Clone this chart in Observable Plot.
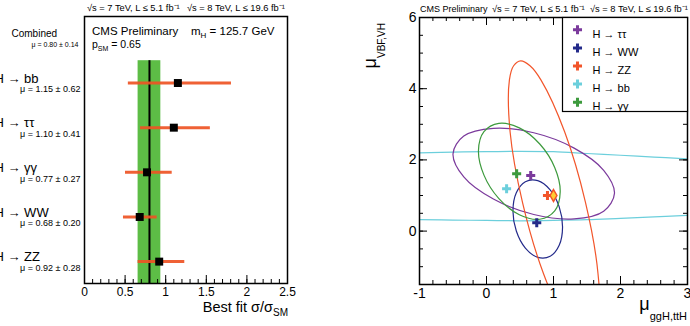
<!DOCTYPE html>
<html><head><meta charset="utf-8">
<script src="https://cdn.jsdelivr.net/npm/d3@7"></script>
<script src="https://cdn.jsdelivr.net/npm/@observablehq/plot@0.6"></script>
<style>
body{margin:0;background:#fff;}
#wrap{position:relative;width:690px;height:326px;overflow:hidden;}
#left,#right{position:absolute;top:0;}
#left{left:0;} #right{left:340px;}
</style></head><body><div id="wrap"><div id="left"></div><div id="right"></div></div>
<script>
const FONT = '"Liberation Sans", Arial, Helvetica, sans-serif';

// ---------- Left panel data ----------
const channels = ["H → bb", "H → ττ", "H → γγ", "H → WW", "H → ZZ"];
const muLabels = ["μ = 1.15 ± 0.62", "μ = 1.10 ± 0.41", "μ = 0.77 ± 0.27", "μ = 0.68 ± 0.20", "μ = 0.92 ± 0.28"];
const muBest = [1.15, 1.10, 0.77, 0.68, 0.92];
const muLow  = [0.54, 0.69, 0.505, 0.48, 0.66];
const muHigh = [1.81, 1.55, 1.08, 0.895, 1.235];
const combinedMu = 0.80, combinedErr = 0.14;
const combinedLabel = "μ = 0.80 ± 0.14";
const leftXTicks = [0, 0.5, 1, 1.5, 2, 2.5];
const leftXDomain = [0, 2.5];
const leftYDomain = [-0.49, 5.49];

// ---------- Right panel data ----------
const rightXDomain = [-1, 3];
const rightYDomain = [-1.5, 6];
const rightXTicks = [-1, 0, 1, 2, 3];
const rightYTicks = [0, 2, 4, 6];
const decayNames = ["H → ττ", "H → WW", "H → ZZ", "H → bb", "H → γγ"];
const decayColors = ["#7b3a9c", "#232a8a", "#f2552a", "#6ccfdc", "#3d9a3d"];
const bestX = [0.66, 0.75, 0.91, 0.30, 0.45];
const bestY = [1.56, 0.235, 1.00, 1.19, 1.61];
const smPoint = [1, 1];
// 68% CL contours
const contourTauTau = [[1.91,1.06],[1.749,1.708],[1.308,2.331],[0.705,2.763],[0.103,2.887],[-0.339,2.670],[-0.50,2.17],[-0.339,1.522],[0.103,0.899],[0.705,0.467],[1.308,0.343],[1.749,0.560]];
const contourWW = [[1.135,0.11],[1.085,0.679],[0.95,1.157],[0.765,1.416],[0.58,1.387],[0.445,1.077],[0.395,0.57],[0.445,0.001],[0.58,-0.477],[0.765,-0.736],[0.95,-0.707],[1.085,-0.397]];
const contourZZ = [[1.478,0.80],[1.166,2.79],[0.812,4.247],[0.649,4.645],[0.51,4.78],[0.405,4.645],[0.342,4.247],[0.352,2.79],[0.538,0.80],[0.85,-1.19],[1.204,-2.647],[1.506,-3.18],[1.674,-2.647],[1.664,-1.19]];
const contourGG = [[1.10,1.10],[1.018,1.788],[0.795,2.447],[0.49,2.90],[0.185,3.027],[-0.038,2.792],[-0.12,2.26],[-0.038,1.572],[0.185,0.913],[0.49,0.46],[0.795,0.333],[1.018,0.568]];
const contourBBUpper = [[-1.2,2.19],[-1,2.20],[-0.5,2.22],[0,2.23],[0.5,2.24],[1,2.23],[1.5,2.18],[2,2.13],[2.5,2.08],[3,2.03],[3.2,2.01]];
const contourBBLower = [[-1.2,0.33],[-1,0.32],[-0.5,0.31],[0,0.30],[0.5,0.29],[1,0.30],[1.5,0.32],[2,0.36],[2.5,0.40],[3,0.44],[3.2,0.46]];

// ---------- helpers ----------
function rich(svg, x, y, parts, size, anchor = "start", rotate = 0) {
  const t = d3.select(svg).append("text")
    .attr("transform", `translate(${x},${y})` + (rotate ? ` rotate(${rotate})` : ""))
    .attr("font-size", size).attr("text-anchor", anchor)
    .attr("font-family", FONT).attr("fill", "black");
  for (const p of parts) {
    const ts = t.append("tspan").text(p.t);
    if (p.size) ts.attr("font-size", p.size);
    if (p.dy) ts.attr("dy", p.dy);
  }
}

// ---------- Left plot ----------
const rows = channels.map((c, i) => ({idx: i + 1, name: c, label: muLabels[i], mu: muBest[i], lo: muLow[i], hi: muHigh[i]}));
const combinedRow = {idx: 0, name: "Combined", label: combinedLabel};
const band = [{lo: combinedMu - combinedErr, hi: combinedMu + combinedErr, top: 0.5, bottom: leftYDomain[1]}];
const lfh = 326 - 16 - 43;
const leftMinor = d3.ticks(0, 2.5, 25);

const L = Plot.plot({
  width: 300, height: 326, marginLeft: 84, marginRight: 13, marginTop: 16, marginBottom: 43,
  style: {fontFamily: FONT, background: "transparent", overflow: "visible"},
  x: {domain: leftXDomain, axis: null},
  y: {domain: leftYDomain, reverse: true, axis: null},
  marks: [
    Plot.rect(band, {x1: "lo", x2: "hi", y1: "top", y2: "bottom", fill: "#5dbd46"}),
    Plot.ruleX(band, {x: () => combinedMu, y1: "top", y2: "bottom", stroke: "black", strokeWidth: 2}),
    Plot.ruleY(rows, {y: "idx", x1: "lo", x2: "hi", stroke: "#ee5424", strokeWidth: 3, strokeOpacity: 0.92}),
    Plot.dot(rows, {x: "mu", y: "idx", symbol: "square", fill: "black", r: 4.5}),
    Plot.ruleX(leftMinor, {x: d => d, insetTop: lfh - 4, stroke: "black"}),
    Plot.ruleX(leftXTicks, {x: d => d, insetTop: lfh - 8, stroke: "black"}),
    Plot.text(leftXTicks, {x: d => d, frameAnchor: "bottom", dy: 4, lineAnchor: "top", text: d => String(d), fontSize: 12}),
    Plot.frame({stroke: "black", strokeWidth: 1.5}),
    Plot.text(rows, {y: "idx", text: "name", frameAnchor: "left", dx: -90, dy: -4.5, textAnchor: "start", fontSize: 13}),
    Plot.text(rows, {y: "idx", text: "label", frameAnchor: "left", dx: -4, dy: 6.4, textAnchor: "end", fontSize: 9}),
    Plot.text([combinedRow], {y: "idx", text: "name", frameAnchor: "left", dx: -73, dy: -4.2, textAnchor: "start", fontSize: 10}),
    Plot.text([combinedRow], {y: "idx", text: "label", frameAnchor: "left", dx: -6, dy: 6.5, textAnchor: "end", fontSize: 7})
  ]
});
document.getElementById("left").appendChild(L);
rich(L, 87, 11, [{t: "√s = 7 TeV, L ≤ 5.1 fb⁻¹"}], 9.3);
rich(L, 187, 11, [{t: "√s = 8 TeV, L ≤ 19.6 fb⁻¹"}], 9.3);
rich(L, 92, 35, [{t: "CMS Preliminary"}], 11.5);
rich(L, 191, 35, [{t: "m"}, {t: "H", size: 8, dy: 3}, {t: " = 125.7 GeV", dy: -3}], 11.5);
rich(L, 92, 48, [{t: "p"}, {t: "SM", size: 7, dy: 3}, {t: " = 0.65", dy: -3}], 10.5);
rich(L, 288, 312, [{t: "Best fit σ/σ"}, {t: "SM", size: 10, dy: 4}], 14.5, "end");

// ---------- Right plot ----------
const rfw = 350 - 79 - 3, rfh = 326 - 17 - 42;
const pts = decayNames.map((n, i) => ({name: n, color: decayColors[i], x: bestX[i], y: bestY[i]}));
const toPts = (arr, key) => arr.map(([x, y]) => ({x, y, key}));
const closed = [
  ...toPts(contourTauTau, 0), ...toPts(contourWW, 1), ...toPts(contourZZ, 2), ...toPts(contourGG, 4)
];
const bbLines = [...toPts(contourBBUpper, "u"), ...toPts(contourBBLower, "l")];
const rightXMinor = d3.range(-1, 3.001, 0.2);
const rightYMinor = d3.range(-1.5, 6.001, 0.5);

const legendMarks = decayNames.flatMap((n, i) => [
  Plot.dot([n], {frameAnchor: "top-right", dx: -110, dy: 12.3 + 18.1 * i, symbol: "cross", fill: decayColors[i], r: 3.8}),
  Plot.text([n], {frameAnchor: "top-right", dx: -95, dy: 12.3 + 18.1 * i, text: d => d, textAnchor: "start", fontSize: 11})
]);

const R = Plot.plot({
  width: 350, height: 326, marginLeft: 79, marginRight: 3, marginTop: 17, marginBottom: 42,
  style: {fontFamily: FONT, background: "transparent", overflow: "visible"},
  x: {domain: rightXDomain, axis: null},
  y: {domain: rightYDomain, axis: null},
  marks: [
    Plot.line(bbLines, {x: "x", y: "y", z: "key", stroke: decayColors[3], strokeWidth: 1.2, curve: "catmull-rom", clip: true}),
    Plot.line(closed, {x: "x", y: "y", z: "key", stroke: d => decayColors[d.key], strokeWidth: 1.2, curve: "catmull-rom-closed", clip: true}),
    Plot.dot(pts, {x: "x", y: "y", symbol: "cross", fill: "color", r: 3.8}),
    Plot.dot([smPoint], {x: d => d[0], y: d => d[1], symbol: "diamond", fill: "#ffcc33", stroke: "#f2552a", strokeWidth: 1.5, r: 3.6}),
    // ticks: bottom, top, left, right
    Plot.ruleX(rightXMinor, {x: d => d, insetTop: rfh - 4, stroke: "black"}),
    Plot.ruleX(rightXTicks, {x: d => d, insetTop: rfh - 8, stroke: "black"}),
    Plot.ruleX(rightXMinor, {x: d => d, insetBottom: rfh - 4, stroke: "black"}),
    Plot.ruleX(rightXTicks, {x: d => d, insetBottom: rfh - 8, stroke: "black"}),
    Plot.ruleY(rightYMinor, {y: d => d, insetRight: rfw - 4, stroke: "black"}),
    Plot.ruleY(rightYTicks, {y: d => d, insetRight: rfw - 8, stroke: "black"}),
    Plot.ruleY(rightYMinor, {y: d => d, insetLeft: rfw - 4, stroke: "black"}),
    Plot.ruleY(rightYTicks, {y: d => d, insetLeft: rfw - 8, stroke: "black"}),
    Plot.text(rightXTicks, {x: d => d, frameAnchor: "bottom", dy: 4, lineAnchor: "top", text: d => String(d), fontSize: 14}),
    Plot.text(rightYTicks, {y: d => d, frameAnchor: "left", dx: -3, textAnchor: "end", text: d => String(d), fontSize: 14}),
    Plot.frame({stroke: "black", strokeWidth: 1.5}),
    Plot.frame({fill: "white", stroke: "black", strokeWidth: 1.2, insetLeft: 143, insetBottom: 173}),
    ...legendMarks
  ]
});
document.getElementById("right").appendChild(R);
rich(R, 80, 12, [{t: "CMS Preliminary"}], 9);
rich(R, 152, 12, [{t: "√s = 7 TeV, L ≤ 5.1 fb⁻¹"}], 9.3);
rich(R, 250, 12, [{t: "√s = 8 TeV, L ≤ 19.6 fb⁻¹"}], 9.3);
rich(R, 36, 23, [{t: "μ"}, {t: "VBF,VH", size: 10, dy: 9}], 18, "end", -90);
rich(R, 347, 310, [{t: "μ"}, {t: "ggH,ttH", size: 11, dy: 10}], 18, "end");
</script></body></html>
